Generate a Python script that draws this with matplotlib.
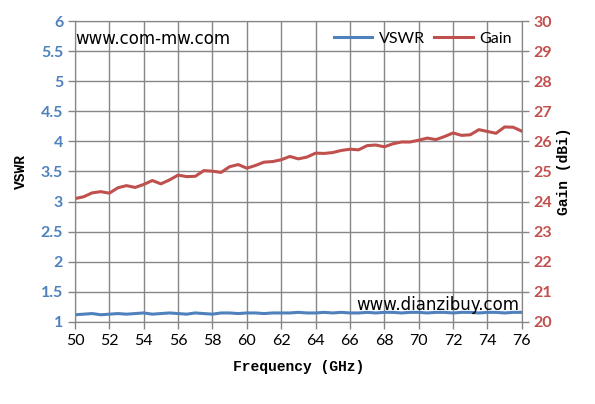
'''VSWR and gain against frequency, two y axes.'''

import numpy as np
import matplotlib
matplotlib.use('Agg')
import matplotlib.pyplot as plt

freq = np.arange(50, 76.01, 0.5)

gain = [24.10, 24.16, 24.29, 24.33, 24.28, 24.46, 24.53, 24.47, 24.57, 24.70,
        24.59, 24.72, 24.88, 24.83, 24.84, 25.03, 25.01, 24.97, 25.16, 25.23,
        25.11, 25.20, 25.31, 25.33, 25.39, 25.50, 25.42, 25.48, 25.61, 25.60,
        25.63, 25.70, 25.74, 25.72, 25.86, 25.88, 25.82, 25.92, 25.98, 25.98,
        26.04, 26.11, 26.06, 26.16, 26.28, 26.20, 26.22, 26.39, 26.33, 26.27,
        26.48, 26.47, 26.34]

vswr = [1.12, 1.13, 1.14, 1.12, 1.13, 1.14, 1.13, 1.14, 1.15, 1.13,
        1.14, 1.15, 1.14, 1.13, 1.15, 1.14, 1.13, 1.15, 1.15, 1.14,
        1.15, 1.15, 1.14, 1.15, 1.15, 1.15, 1.16, 1.15, 1.15, 1.16,
        1.15, 1.16, 1.15, 1.15, 1.16, 1.15, 1.16, 1.16, 1.15, 1.16,
        1.16, 1.15, 1.16, 1.16, 1.15, 1.16, 1.16, 1.15, 1.16, 1.16,
        1.15, 1.16, 1.16]

x_ticks = np.arange(50, 77, 2)
vswr_ticks = [1, 1.5, 2, 2.5, 3, 3.5, 4, 4.5, 5, 5.5, 6]
gain_ticks = np.arange(20, 31, 1)

blue = '#4F81BD'
red = '#C0504D'
grid_col = '#868686'

fig = plt.figure(figsize=(5.95, 4.04), dpi=100)
ax = fig.add_axes([0.126, 0.203, 0.751, 0.745])
ax2 = ax.twinx()

l1, = ax.plot(freq, vswr, color=blue, lw=2.2, label='VSWR')
l2, = ax2.plot(freq, gain, color=red, lw=2.2, label='Gain')

ax.set_xlim(50, 76)
ax.set_ylim(1, 6)
ax2.set_ylim(20, 30)
ax.set_xticks(x_ticks)
ax.set_yticks(vswr_ticks)
ax.set_yticklabels([f'{v:g}' for v in vswr_ticks])
ax2.set_yticks(gain_ticks)

ax.grid(True, color=grid_col, lw=1)
ax.set_axisbelow(True)
for a in (ax, ax2):
    for s in a.spines.values():
        s.set_color(grid_col)
    a.tick_params(colors=grid_col, length=5, width=1)

tick_font = dict(family='Lato', size=11.5, weight='bold')
for t in ax.get_yticklabels():
    t.set(color=blue, **tick_font)
for t in ax2.get_yticklabels():
    t.set(color=red, **tick_font)
for t in ax.get_xticklabels():
    t.set(color='black', family='Lato', size=11.5)

lab_font = dict(family='Liberation Mono', size=10.5, weight='bold', color='black')
ax.set_xlabel('Frequency (GHz)', labelpad=9, **lab_font)
ax.set_ylabel('VSWR', rotation=90, labelpad=9, **lab_font)
ax2.set_ylabel('Gain (dBi)', rotation=90, labelpad=3, **lab_font)

ax.text(0.0, 0.97, 'www.com-mw.com', transform=ax.transAxes,
        fontsize=12, family='DejaVu Sans', va='top', ha='left')
ax.text(0.995, 0.025, 'www.dianzibuy.com', transform=ax.transAxes,
        fontsize=12, family='DejaVu Sans', va='bottom', ha='right')

ax2.legend([l1, l2], ['VSWR', 'Gain'], loc='upper right', ncol=2,
           frameon=False, prop={'family': 'Lato', 'size': 11.5},
           handlelength=2.4, handletextpad=0.4, borderaxespad=0.25,
           columnspacing=0.6)

fig.savefig('out.png', dpi=100)
